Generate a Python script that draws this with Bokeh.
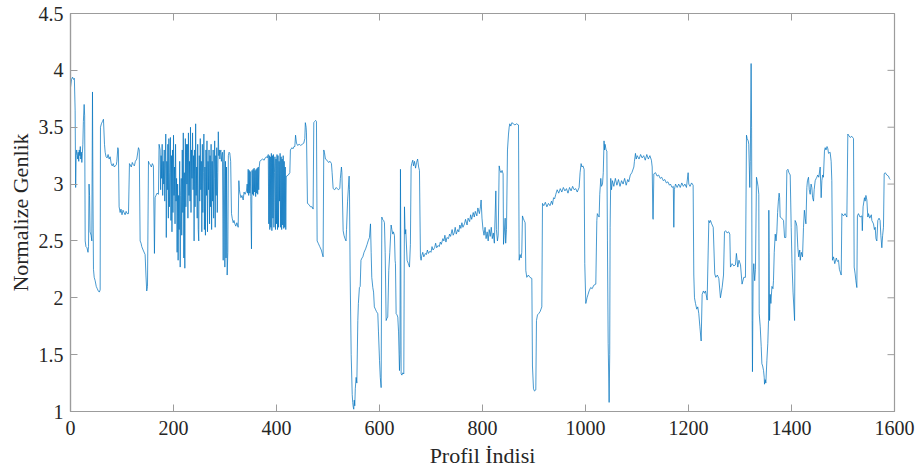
import math
from bokeh.plotting import figure
from bokeh.models import FixedTicker, Range1d
from bokeh.embed import file_html
from bokeh.resources import INLINE

# ---------------- data ----------------
x_ticks = [0, 200, 400, 600, 800, 1000, 1200, 1400, 1600]
x_tick_labels = ["0", "200", "400", "600", "800", "1000", "1200", "1400", "1600"]
y_ticks = [1, 1.5, 2, 2.5, 3, 3.5, 4, 4.5]
y_tick_labels = ["1", "1.5", "2", "2.5", "3", "3.5", "4", "4.5"]

# (profile index, normalized amplitude) pairs
seg_start = [
    (0, 3.85), (2, 3.92), (4, 3.94), (6, 3.92), (7.5, 3.93), (9, 3.65), (10, 2.97), (11, 3.25),
    (12, 3.30), (14, 3.22), (15, 3.28), (16, 3.20), (17, 3.30), (18, 3.25), (19, 3.33), (20, 3.22),
    (21, 3.28), (22, 3.19), (23, 3.27), (24, 3.35), (25, 3.55), (26.5, 3.70), (27.5, 3.60),
    (28.5, 2.50), (30, 2.45), (32, 2.44), (34, 2.40), (35, 2.45), (36, 3.00), (37, 2.90),
    (38, 2.58), (40, 2.55), (41.4, 2.50), (42.7, 3.81), (43.5, 3.00), (44.6, 2.25), (46, 2.18),
    (47.9, 2.15), (50, 2.10), (52, 2.08), (54, 2.06), (56, 2.05), (57.6, 2.07), (58.2, 3.50),
    (60, 3.53), (62, 3.55), (64, 3.57), (66, 3.35), (67.3, 3.28), (69, 3.24), (71, 3.23),
    (73, 3.26), (75, 3.22), (77, 3.24), (79, 3.18), (81, 3.16), (83, 3.18), (85, 3.15),
    (87, 3.16), (89, 3.17), (90, 3.20), (91.9, 3.32), (93, 3.30), (94.4, 2.80), (96.4, 2.75),
    (98, 2.78), (100, 2.73), (102, 2.77), (104, 2.75), (106, 2.73), (108, 2.76), (110, 2.74),
    (112.6, 2.74), (114.5, 3.18), (116, 3.17), (118, 3.15), (120, 3.19), (122, 3.17), (124, 3.16),
    (126, 3.20), (128.7, 3.22), (132, 3.32), (133.5, 3.30), (135.2, 2.50), (137, 2.48),
    (138.4, 2.45), (141, 2.42), (144.9, 2.38), (146.5, 2.20), (148, 2.06), (149.5, 2.10),
    (151.4, 3.20), (153, 3.18), (155, 3.17), (157, 3.15), (159, 3.18), (161, 3.16), (163, 2.39),
    (164.3, 2.88), (166, 2.90), (168, 2.92), (170.8, 2.91), (172, 3.35),
]

dense_a_first_index = 174
dense_a_values = [
    3.30, 2.95, 3.25, 3.05, 3.35, 2.90, 3.20, 3.00, 3.30, 2.85, 3.15, 3.44, 2.53, 3.20, 2.95, 3.35,
    2.70, 3.40, 2.80, 3.10, 3.41, 2.68, 3.25, 2.58, 3.30, 2.75, 3.43, 2.90, 3.15, 2.65, 3.35, 2.85,
    3.05, 2.40, 3.00, 2.33, 2.90, 2.60, 3.20, 2.27, 2.90, 3.05, 2.55, 3.30, 2.75, 3.45, 2.35, 3.10,
    2.26, 3.40, 2.80, 3.35, 3.00, 3.35, 2.70, 3.45, 2.90, 3.20, 2.85, 3.50, 2.75, 3.30, 3.05, 3.45,
    2.95, 3.25, 2.50, 3.30, 2.80, 3.53, 2.90, 3.15, 2.70, 3.35, 2.60, 2.50, 3.25, 2.85, 3.40, 2.95,
    3.20, 2.58, 3.35, 2.75, 3.10, 3.44, 2.60, 3.15, 2.55, 3.30, 2.90, 3.38, 2.58, 3.20, 2.95,
    3.30, 2.65, 3.25, 2.80, 3.35, 2.60, 3.20, 2.85, 3.30, 2.70, 3.05, 3.38, 2.62, 3.25, 2.90,
    3.32, 2.75, 3.10, 3.46, 3.25, 3.30, 3.22, 3.28, 3.30, 3.20, 3.25, 3.28,
]

seg_mid_a = [
    (296.5, 2.33), (297.5, 3.20), (298.5, 3.30), (299.7, 2.27), (301, 3.20), (302, 2.35),
    (303, 3.15), (304.2, 2.20), (305.5, 2.40), (306.5, 3.25), (308, 3.28), (309.4, 3.27),
    (311, 3.20), (312.6, 2.74), (314, 2.70), (315.9, 2.66), (317.5, 2.68), (319.1, 2.65),
    (321, 2.63), (323, 2.66), (325.6, 2.62), (326.9, 3.03), (328, 2.95), (329, 2.92), (331, 2.88),
    (333, 2.90), (335.3, 2.86), (337, 2.93), (339, 2.91), (341.7, 2.94), (343, 3.00), (344, 2.92),
    (345, 3.13), (346, 2.90), (347, 3.12), (348, 2.92), (349, 3.11), (350, 2.89), (351.4, 2.43),
    (352.5, 3.12), (353.5, 2.91), (354.5, 3.13), (355.5, 2.90), (356.5, 3.14), (357.5, 2.93),
    (358.5, 3.12), (359.5, 2.89), (360.5, 3.13), (361.5, 2.92), (362.5, 3.14), (363.5, 2.91),
    (364.5, 3.15), (365.5, 2.95), (366.5, 3.15), (367.6, 3.20), (370, 3.21), (373, 3.22),
    (376, 3.21), (378, 3.23), (380.6, 3.24), (382, 3.23),
]

dense_b_first_index = 384
dense_b_values = [
    3.26, 2.65, 3.25, 2.60, 3.24, 2.62, 3.27, 2.59, 3.25, 2.70, 3.26, 2.62, 3.10, 3.24, 2.60, 3.22,
    2.65, 3.26, 2.60, 3.25, 2.62, 3.20, 2.85, 3.27, 2.62, 3.24, 2.60, 3.22, 2.64, 3.25, 2.61, 3.20,
    2.62, 3.15, 2.60, 3.07,
]

seg_mid_b = [
    (420, 3.07), (423, 3.08), (425.9, 3.10), (427, 3.30), (430, 3.32), (432, 3.31), (434, 3.33),
    (435.6, 3.33), (437, 3.43), (438.8, 3.36), (441, 3.34), (444, 3.35), (447, 3.34), (450, 3.35),
    (453, 3.36), (455, 3.40), (456, 3.54), (457.5, 3.50), (458.2, 3.45), (460.1, 2.83),
    (463, 2.82), (466, 2.80), (469, 2.80), (471.1, 2.78), (472.4, 3.54), (474, 3.55), (476, 3.56),
    (477.6, 3.55), (478.9, 2.50), (481, 2.48), (484, 2.45), (487, 2.42), (490.5, 2.36),
    (491.8, 3.30), (493, 3.28), (495, 3.22), (498, 3.21), (501, 3.19), (504, 3.20), (506.7, 3.18),
    (508, 3.10), (510, 2.96), (513, 2.95), (516, 2.97), (520, 2.95), (522.9, 2.96), (524, 3.05),
    (526.1, 3.15), (527, 3.10), (529.4, 2.59), (531, 2.55), (533, 2.52), (535, 2.50),
    (536, 2.60), (538, 2.85), (540, 3.00), (541, 3.07), (541.7, 2.95), (543, 2.20), (545, 1.50),
    (547, 1.15), (548, 1.08), (549, 1.04), (550, 1.02), (551, 1.10), (552, 1.05), (553, 1.20),
    (554.6, 1.30), (556, 1.25), (557.9, 1.80), (559, 1.95), (561, 2.09), (562.5, 2.10),
    (564, 2.33), (566, 2.35), (567.6, 2.36), (570, 2.40), (573, 2.43), (576, 2.47), (578, 2.50),
    (580.5, 2.53), (582.5, 2.65), (583.8, 2.40), (585, 2.18), (587, 2.09), (588.5, 2.05),
    (590, 1.92), (592, 1.90), (594, 1.88), (596.7, 1.86), (598, 1.70), (600, 1.45), (601.5, 1.30),
    (603.2, 1.21), (604.5, 2.71), (606, 2.69), (608, 2.68), (609.6, 2.66), (611, 2.40),
    (612.9, 1.80), (614.5, 1.82), (616, 1.83), (618, 2.24), (620, 2.40), (622.6, 2.64),
    (624, 2.60), (625.8, 2.56), (627, 2.58), (629, 2.55), (630.3, 2.33), (631, 2.30),
    (632.3, 1.86), (634, 1.85), (635.5, 1.83), (637, 1.70), (638.8, 1.36), (639.7, 1.50),
    (640.7, 3.13), (641.5, 2.20), (642, 1.33), (643.5, 1.32), (645.2, 1.34), (647.2, 1.33),
    (648.5, 2.80), (649.8, 2.56), (651, 2.60), (653.6, 2.33), (656, 2.30), (658.2, 2.27),
    (660, 2.47), (661.4, 3.15), (662.5, 3.18), (664.6, 3.21), (666, 3.16), (668, 3.20),
    (670, 3.14), (672, 3.19), (674, 3.22), (676, 3.15), (677.6, 3.12), (679.5, 2.36),
    (680.8, 2.33),
]

seg_ramp = [
    (682, 2.37), (684, 2.40), (686, 2.36), (689, 2.39), (691, 2.38), (693, 2.42), (695, 2.39),
    (698, 2.41), (700, 2.40), (702, 2.45), (704, 2.42), (707, 2.44), (709, 2.48), (711, 2.44),
    (714, 2.46), (716, 2.45), (718, 2.49), (720, 2.47), (723, 2.52), (725, 2.50), (727, 2.55),
    (729, 2.49), (731, 2.53), (734, 2.52), (736, 2.56), (738, 2.54), (741, 2.60), (743, 2.55),
    (745, 2.57), (747, 2.62), (749, 2.56), (752, 2.60), (754, 2.58), (756, 2.64), (758, 2.61),
    (760, 2.66), (762, 2.62), (765, 2.65), (767, 2.69), (770, 2.64), (772, 2.70), (775, 2.67),
    (777, 2.73), (779, 2.69), (782, 2.75), (784, 2.71), (786, 2.76), (789, 2.72), (791, 2.79),
    (794, 2.74), (796, 2.80), (797.3, 2.86), (799, 2.70),
]

seg_late_a = [
    (801, 2.60), (803, 2.55), (805, 2.62), (807, 2.52), (809, 2.58), (811, 2.50), (813, 2.60),
    (815, 2.54), (817, 2.62), (819, 2.52), (821, 2.57), (823, 2.48), (825.9, 2.94), (827, 2.60),
    (829, 2.50), (830.5, 2.55), (832.4, 3.16), (834, 3.12), (836, 3.10), (838, 3.12), (840, 3.09),
    (840.8, 2.47), (842, 2.55), (844, 2.70), (845, 2.48), (846.6, 2.60), (848.5, 3.30),
    (850.5, 3.44), (851.8, 3.50), (853, 3.53), (855, 3.51), (857, 3.54), (860, 3.53), (863, 3.52),
    (866, 3.53), (869.9, 3.52), (871.2, 2.33), (873, 2.38), (875, 2.35), (876.3, 2.40),
    (877.6, 2.72), (879, 2.70), (880.9, 2.68), (882.8, 2.66), (884.1, 2.24), (886, 2.18),
    (889, 2.20), (892, 2.18), (895.8, 2.17), (897, 1.40), (899, 1.20), (901, 1.18), (903.5, 1.19),
    (904.8, 1.80), (906.8, 1.85), (909, 1.86), (912, 1.88), (915.2, 1.92), (916.5, 2.83),
    (919, 2.81), (922, 2.84), (925, 2.80), (928, 2.83), (931, 2.81), (934, 2.85), (935.9, 2.82),
    (938, 2.88), (940, 2.87), (942.3, 2.91), (945, 2.95), (948, 2.92), (951, 2.96), (954, 2.93),
    (957, 2.97), (960, 2.94), (963, 2.96), (966, 2.92), (969, 2.97), (972, 2.94), (975, 2.98),
    (978, 2.95), (981, 2.96), (984, 2.93), (987.6, 2.97), (989.5, 3.10), (991.5, 3.18),
    (993, 3.15), (995, 3.16), (997.3, 3.13), (998.6, 2.30), (1000.6, 1.95), (1003, 2.00),
    (1005, 2.03), (1007, 2.06), (1010, 2.09), (1013, 2.08), (1016, 2.11), (1020, 2.12),
    (1022, 2.68), (1023, 2.74), (1025, 2.72), (1026.5, 2.71), (1027.7, 2.91), (1029.7, 3.05),
    (1031, 2.98), (1033, 3.00), (1034.5, 3.10), (1036, 3.38), (1037, 3.30), (1038, 3.35),
    (1040, 3.30), (1041.5, 3.29), (1042.6, 2.50), (1044, 1.60), (1045.9, 1.08), (1047, 1.50),
    (1047.8, 2.62), (1049, 3.05), (1050.5, 2.95), (1052.3, 3.03), (1055, 2.98), (1058, 3.05),
    (1061, 2.99), (1064, 3.04), (1067, 2.98), (1070, 3.03),
]

seg_late_b = [
    (1073, 3.00), (1076, 3.05), (1079, 2.99), (1082, 3.04), (1084, 3.02), (1087, 3.08),
    (1090, 3.10), (1093.9, 3.15), (1095, 3.20), (1097, 3.27), (1098.5, 3.22), (1100.4, 3.25),
    (1104, 3.22), (1107, 3.26), (1110, 3.23), (1113, 3.25), (1116, 3.21), (1119, 3.26),
    (1122, 3.22), (1125, 3.25), (1128, 3.21), (1129.5, 3.15), (1130.8, 2.70), (1131.4, 2.69),
    (1132.7, 3.09), (1136, 3.10), (1139, 3.07), (1142, 3.08), (1145, 3.05), (1148, 3.06),
    (1151, 3.03), (1154, 3.04), (1157, 3.01), (1160, 3.02), (1163, 2.99), (1165, 3.00),
    (1168, 2.97), (1170.5, 2.98), (1171.5, 2.62), (1172.5, 2.95), (1174.8, 3.00), (1178, 2.97),
    (1181, 3.00), (1184, 2.97), (1187, 3.01), (1190, 2.98), (1193, 3.00), (1196, 2.97),
    (1199.3, 3.10), (1200.6, 3.00), (1203, 2.98), (1206, 3.01), (1209, 2.99), (1210.3, 2.20),
    (1211.6, 2.00), (1213.6, 1.95), (1216, 1.90), (1218, 1.92), (1220, 1.86), (1222, 1.75),
    (1224.6, 1.62), (1226.5, 2.03), (1229, 2.06), (1231, 2.04), (1233, 2.06), (1236.2, 1.98),
    (1239.5, 2.68), (1241, 2.66), (1242.7, 2.68), (1245, 2.65), (1248, 2.62), (1251, 2.21),
    (1253, 2.18), (1256, 2.20), (1258.9, 2.17), (1262, 2.00), (1265.3, 2.09), (1268, 2.20),
    (1269.9, 2.58), (1272, 2.59), (1275, 2.57), (1278, 2.58), (1280.2, 2.56), (1281.5, 2.27),
    (1284.7, 2.30), (1288, 2.28), (1291.2, 2.29), (1293, 2.39), (1294, 2.35), (1295.7, 2.27),
    (1298, 2.33), (1301, 2.29), (1304, 2.12), (1307.4, 2.18), (1310.6, 2.18), (1312.6, 3.43),
    (1313.9, 3.40), (1316, 3.38), (1317, 3.35), (1319, 2.97), (1320, 3.20), (1321.6, 4.06),
    (1322.5, 3.50), (1323.6, 1.80), (1324.2, 1.35), (1325.5, 2.20), (1326.8, 2.30),
    (1328.5, 2.15), (1330, 2.25), (1332, 3.06), (1333.3, 3.03), (1335, 2.98), (1336.5, 2.91),
]

seg_end = [
    (1337.3, 1.86), (1339.2, 1.75), (1341.2, 1.57), (1342.5, 1.42), (1344, 1.40), (1345.7, 1.36),
    (1347, 1.30), (1347.6, 1.24), (1349, 1.28), (1350.2, 1.25), (1352.2, 1.45), (1354, 1.60),
    (1355.4, 1.80), (1356, 2.77), (1356.7, 2.40), (1357.4, 1.80), (1358.6, 2.03), (1360, 1.95),
    (1362, 2.10), (1364, 2.08), (1365, 2.15), (1366.5, 2.40), (1368.4, 2.56), (1370, 2.50),
    (1371.6, 2.58), (1373, 2.75), (1374.5, 2.85), (1376, 2.92), (1377, 2.88), (1378, 2.71),
    (1381, 2.70), (1384.5, 2.68), (1386.5, 2.53), (1389, 2.53), (1391, 3.12), (1393, 3.13),
    (1395, 3.10), (1397.5, 3.08), (1399.4, 2.62), (1401, 2.30), (1403, 2.05), (1406, 1.80),
    (1407, 2.68), (1409, 2.66), (1410.4, 2.63), (1412.3, 2.44), (1414, 2.36), (1416, 2.42),
    (1417, 2.33), (1419, 2.40), (1421.4, 2.36), (1423.3, 2.62), (1425, 2.77), (1426.6, 2.70),
    (1428, 2.65), (1429.8, 2.97), (1431, 3.03), (1433, 3.06), (1434.5, 2.95), (1436.3, 2.91),
    (1438, 3.00), (1439.5, 2.97), (1441, 2.88), (1442.8, 2.85), (1444, 2.95), (1446, 3.03),
    (1448, 3.05), (1449.2, 3.06), (1451, 3.08), (1453, 3.06), (1455.7, 3.15), (1457.6, 2.88),
    (1459, 3.03), (1460.5, 3.08), (1462, 3.06), (1464, 3.29), (1465.4, 3.32), (1467, 3.30),
    (1469, 3.33), (1470.6, 3.31), (1471.9, 3.27), (1475, 3.28), (1477, 3.20), (1478.3, 3.03),
    (1479.6, 2.33), (1481.6, 2.36), (1484, 2.30), (1487, 2.35), (1489, 2.32), (1491.3, 2.33),
    (1493, 2.25), (1496.5, 2.20), (1497.8, 2.74), (1501, 2.72), (1504, 2.74), (1507.5, 2.71),
    (1509.4, 3.44), (1510.7, 3.43), (1514, 3.41), (1517, 3.42), (1520.4, 3.40), (1521.7, 2.27),
    (1523.6, 2.21), (1525, 2.15), (1526.9, 2.09), (1528, 2.72), (1530, 2.74), (1533, 2.71),
    (1536.6, 2.72), (1537.5, 2.59), (1539, 2.80), (1541.7, 2.88), (1543, 2.85), (1544.5, 2.90),
    (1546.3, 2.86), (1548.2, 2.71), (1549.5, 2.74), (1552, 2.70), (1555, 2.73), (1556, 2.68),
    (1559.2, 2.65), (1561, 2.60), (1562.5, 2.62), (1564, 2.52), (1565.7, 2.50), (1567.6, 2.68),
    (1570, 2.70), (1572, 2.68), (1573.5, 2.55), (1575.4, 2.44), (1577, 2.55), (1578.6, 2.62),
    (1580, 3.09), (1582, 3.10), (1585, 3.08), (1588.3, 3.07), (1590, 3.05), (1591.6, 3.04),
]

# ---------------- assemble the series ----------------
dense_a = [(dense_a_first_index + i, v) for i, v in enumerate(dense_a_values)]
dense_b = [(dense_b_first_index + i, v) for i, v in enumerate(dense_b_values)]
points = (seg_start + dense_a + seg_mid_a + dense_b + seg_mid_b + seg_ramp
          + seg_late_a + seg_late_b + seg_end)
points.sort(key=lambda t: t[0])
profile_index = [t[0] for t in points]
amplitude = [t[1] for t in points]

# ---------------- figure ----------------
FONT = "'Liberation Serif', 'Times New Roman', serif"
TEXT = "#262626"
FRAME = "#9c9c9c"
X_MIN, X_MAX = x_ticks[0], x_ticks[-1]
Y_MIN, Y_MAX = y_ticks[0], y_ticks[-1]

p = figure(width=922, height=475, output_backend="svg", toolbar_location=None,
           x_range=Range1d(X_MIN, X_MAX), y_range=Range1d(Y_MIN, Y_MAX),
           min_border_left=70, min_border_right=28, min_border_top=13, min_border_bottom=64,
           background_fill_color="white", border_fill_color="white")

p.line(profile_index, amplitude, line_color="#0072BD", line_width=0.85, line_alpha=0.85)

p.grid.visible = False
p.outline_line_color = FRAME
p.outline_line_width = 1.2

for ax in (p.xaxis[0], p.yaxis[0]):
    ax.axis_line_color = FRAME
    ax.axis_line_width = 1.2
    ax.major_tick_line_color = FRAME
    ax.major_tick_in = 7
    ax.major_tick_out = 0
    ax.minor_tick_line_color = None
    ax.major_label_text_font = FONT
    ax.major_label_text_font_size = "20px"
    ax.major_label_text_color = TEXT
    ax.axis_label_text_font = FONT
    ax.axis_label_text_font_size = "22px"
    ax.axis_label_text_font_style = "normal"
    ax.axis_label_text_color = TEXT

p.xaxis.ticker = FixedTicker(ticks=x_ticks)
p.xaxis.major_label_overrides = dict(zip(x_ticks, x_tick_labels))
p.xaxis.axis_label = "Profil İndisi"
p.xaxis.major_label_standoff = 9
p.xaxis.axis_label_standoff = 5

p.yaxis.ticker = FixedTicker(ticks=y_ticks)
p.yaxis.major_label_overrides = dict(zip(y_ticks, y_tick_labels))
p.yaxis.axis_label = "Normalize Genlik"
p.yaxis.major_label_standoff = 7
p.yaxis.axis_label_standoff = 3

# inward ticks on the top and right edges of the box (MATLAB style)
p.ray(x=x_ticks, y=[Y_MAX] * len(x_ticks), length=7, length_units="screen",
      angle=-math.pi / 2, line_color=FRAME, line_width=1)
p.ray(x=[X_MAX] * len(y_ticks), y=y_ticks, length=7, length_units="screen",
      angle=math.pi, line_color=FRAME, line_width=1)

open("out.html", "w").write(file_html(p, INLINE))
